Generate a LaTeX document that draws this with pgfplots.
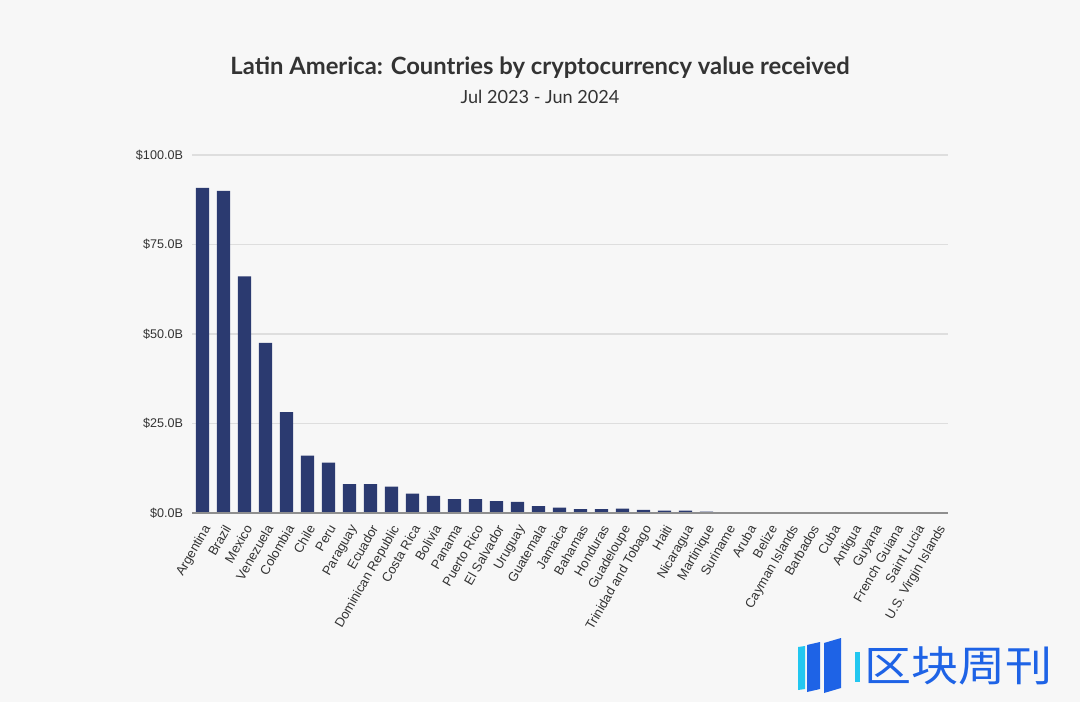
\documentclass[border=0pt]{standalone}
\usepackage{pgfplots}
\pgfplotsset{compat=1.18}
\usepackage{pgfplotstable}
\usepackage{fontspec}
\setmainfont{Liberation Sans}
\newfontfamily\titlefont{Lato}
\newfontfamily\cjk{Noto Sans CJK SC}
\definecolor{bg}{HTML}{F7F7F7}
\definecolor{barc}{HTML}{2B3A70}
\definecolor{gridc}{HTML}{DEDEDE}
\definecolor{axisc}{HTML}{8F8F8F}
\definecolor{txt}{HTML}{333333}
\definecolor{wmblue}{HTML}{1E63E6}
\definecolor{wmcyan}{HTML}{22C7F0}
\pgfplotstableread{
x v
0 90.8
1 90.0
2 66.1
3 47.5
4 28.2
5 16.0
6 14.1
7 8.1
8 8.1
9 7.4
10 5.4
11 4.8
12 3.9
13 3.9
14 3.3
15 3.1
16 1.9
17 1.5
18 1.1
19 1.1
20 1.2
21 0.9
22 0.65
23 0.65
24 0.4
25 0.05
26 0.02
27 0.02
28 0.02
29 0.01
30 0.01
31 0.01
32 0.01
33 0.01
34 0.01
35 0.01
}\datatab
\begin{document}
\begin{tikzpicture}
\fill[bg] (0,0) rectangle (540pt,351pt);
\node[font=\titlefont\bfseries\fontsize{11.9}{13}\selectfont, text=txt] at (270pt,317pt) {Latin America: Countries by cryptocurrency value received};
\node[font=\titlefont\fontsize{9.05}{10}\selectfont, text=txt] at (270pt,302.5pt) {Jul 2023 - Jun 2024};
\begin{axis}[
  at={(96pt,94.5pt)}, anchor=south west,
  scale only axis, width=378pt, height=179pt,
  xmin=-0.5, xmax=35.5, ymin=0, ymax=100,
  axis line style={draw=none},
  axis x line*=bottom,
  ytick={0,25,50,75,100},
  yticklabels={\$0.0B,\$25.0B,\$50.0B,\$75.0B,\$100.0B},
  ymajorgrids, grid style={gridc, line width=0.6pt},
  major tick length=0pt,
  xtick={0,...,35},
  xticklabels={Argentina,Brazil,Mexico,Venezuela,Colombia,Chile,Peru,Paraguay,Ecuador,Dominican Republic,Costa Rica,Bolivia,Panama,Puerto Rico,El Salvador,Uruguay,Guatemala,Jamaica,Bahamas,Honduras,Guadeloupe,Trinidad and Tobago,Haiti,Nicaragua,Martinique,Suriname,Aruba,Belize,Cayman Islands,Barbados,Cuba,Antigua,Guyana,French Guiana,Saint Lucia,U.S. Virgin Islands},
  xticklabel style={rotate=60, anchor=north east, font=\fontsize{6.5}{7}\selectfont, text=txt, inner sep=1pt, xshift=-3.5pt, yshift=-1.5pt},
  yticklabel style={font=\fontsize{6.3}{7}\selectfont, text=txt, xshift=-1pt},
  clip=false,
]
\addplot[ybar, bar width=6.6pt, fill=barc, draw=none] table[x=x,y=v]{\datatab};
\draw[axisc, line width=0.8pt] (axis cs:-0.5,0) -- (axis cs:35.5,0);
\end{axis}
% watermark
\fill[wmcyan] (399pt,6pt) -- (402.5pt,6.5pt) -- (402.5pt,28pt) -- (399pt,27.5pt) -- cycle;
\fill[wmblue] (403.5pt,5pt) -- (410pt,6.5pt) -- (410pt,30pt) -- (403.5pt,28.5pt) -- cycle;
\fill[wmblue] (412pt,4.5pt) -- (420.5pt,7pt) -- (420.5pt,32pt) -- (412pt,29.5pt) -- cycle;
\fill[wmcyan] (427.5pt,10pt) rectangle (430pt,25pt);
\node[font=\cjk\fontsize{21}{22}\selectfont, text=wmblue, anchor=west, xscale=1.12, inner sep=0pt] at (432pt,18pt) {区块周刊};
\end{tikzpicture}
\end{document}
